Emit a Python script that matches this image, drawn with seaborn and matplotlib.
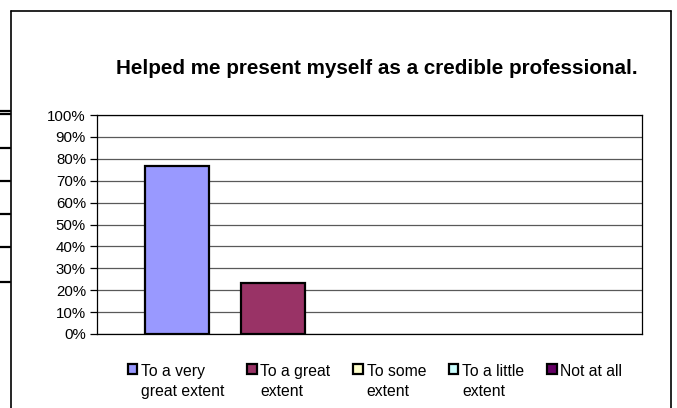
import matplotlib
matplotlib.use("Agg")
import matplotlib.pyplot as plt
import seaborn as sns
import pandas as pd
from matplotlib.patches import Patch
from matplotlib.lines import Line2D

# data (13 answers -> 10/13 and 3/13)
categories = ["To a very great extent", "To a great extent", "To some extent",
              "To a little extent", "Not at all"]
legend_labels = ["To a very\ngreat extent", "To a great\nextent", "To some\nextent",
                 "To a little\nextent", "Not at all\n "]
shares = [0.769, 0.231, 0.0, 0.0, 0.0]
colors = ["#9999FF", "#993366", "#FFFFCC", "#CCFFFF", "#660066"]
yticks = [i / 10 for i in range(11)]
title = "Helped me present myself as a credible professional."

df = pd.DataFrame({"answer": categories, "share": shares})

sns.set_style("white")
plt.rcParams["font.family"] = ["Liberation Sans", "DejaVu Sans"]
plt.rcParams["text.color"] = "black"
plt.rcParams["ytick.labelcolor"] = "black"

fig = plt.figure(figsize=(6.77, 4.08), dpi=100)
ax = fig.add_axes([0.1433, 0.1814, 0.805, 0.5367])

sns.barplot(data=df, x="answer", y="share", hue="answer", palette=colors,
            saturation=1, dodge=False, legend=False, width=0.667,
            edgecolor="black", linewidth=1.6, ax=ax, zorder=3)
# empty categories show nothing, as in the original
for p in ax.patches:
    if p.get_height() == 0:
        p.set_linewidth(0)

ax.set_xlim(-0.833, 4.844)
ax.set_ylim(0, 1)
ax.set_yticks(yticks)
ax.set_yticklabels([f"{int(round(t * 100))}%" for t in yticks], fontsize=10.8,
                   color="black")
ax.set_xticks([])
ax.set_xlabel("")
ax.set_ylabel("")
ax.yaxis.grid(True, color="0.35", linewidth=0.9, zorder=0)
ax.tick_params(axis="y", left=True, length=5, width=0.9, color="black", pad=3)
for s in ax.spines.values():
    s.set_visible(True)
    s.set_color("black")
    s.set_linewidth(0.9)

fig.text(0.557, 0.833, title, ha="center", va="center", color="black",
         fontsize=14.85, fontweight="bold")

handles = [Patch(facecolor=c, edgecolor="black", linewidth=1.6) for c in colors]
leg = fig.legend(handles, legend_labels, loc="upper center",
                 bbox_to_anchor=(0.554, 0.128), ncol=5, frameon=False,
                 fontsize=11.3, handlelength=0.6, handleheight=0.6,
                 handletextpad=0.25, columnspacing=1.45, borderpad=0,
                 labelspacing=0)
for t in leg.get_texts():
    t.set_linespacing(1.45)
    t.set_color("black")
# square next to the first line of each label
leg._legend_handle_box.align = "top"
for col in leg._legend_handle_box.get_children():
    for row in col.get_children():
        row.align = "top"

# outer chart frame
W, H = 677, 408
fig.add_artist(Line2D([11 / W, 11 / W], [0, 1 - 11 / H], color="black", lw=1.2))
fig.add_artist(Line2D([11 / W, 671 / W], [1 - 11 / H, 1 - 11 / H], color="black", lw=1.2))
fig.add_artist(Line2D([671 / W, 671 / W], [0, 1 - 11 / H], color="black", lw=1.2))
# bits of the table behind the chart on the left edge
for yy in [111, 114, 148, 181, 214, 247, 282]:
    fig.add_artist(Line2D([0, 10 / W], [1 - yy / H, 1 - yy / H], color="black", lw=1.6))

fig.savefig("out.png", dpi=100, facecolor="white")
